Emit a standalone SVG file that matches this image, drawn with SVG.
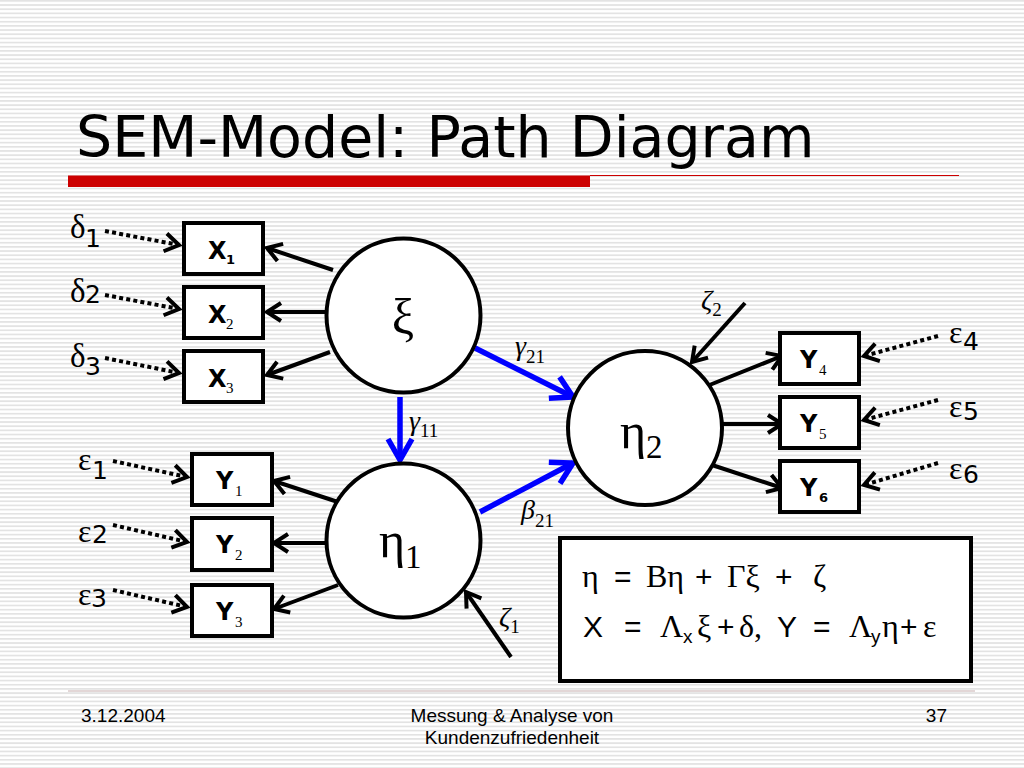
<svg xmlns="http://www.w3.org/2000/svg" width="1024" height="768" viewBox="0 0 1024 768">
<defs>
<pattern id="stripes" width="8" height="4.17" patternUnits="userSpaceOnUse">
<rect width="8" height="4.17" fill="#ffffff"/>
<rect width="8" height="1.7" fill="#e3e3e3"/>
</pattern>
<marker id="arrB" markerUnits="userSpaceOnUse" markerWidth="40" markerHeight="40" refX="0" refY="0" orient="auto" overflow="visible">
<path d="M -14 -9 L 0 0 L -14 9" fill="none" stroke="#000" stroke-width="4" stroke-dasharray="none" stroke-linejoin="miter"/>
</marker>
<marker id="arrBlue" markerUnits="userSpaceOnUse" markerWidth="40" markerHeight="40" refX="0" refY="0" orient="auto" overflow="visible">
<path d="M -21 -12 L 0 0 L -21 12" fill="none" stroke="#0000ff" stroke-width="5.5" stroke-dasharray="none" stroke-linejoin="miter"/>
</marker>
</defs>
<style>
.box{fill:#fff;stroke:#000;stroke-width:4}
.circ{fill:#fff;stroke:#000;stroke-width:4}
.lbl{font-family:"DejaVu Sans",Verdana,sans-serif;font-weight:bold;font-size:24px;fill:#000}
.subb{font-family:"DejaVu Sans",sans-serif;font-weight:bold;font-size:13px}
.subs{font-family:"Liberation Serif",serif;font-weight:normal;font-size:15px}
.ser{font-family:"Liberation Serif","Times New Roman",serif;fill:#000}
.san{font-family:"DejaVu Sans",Verdana,sans-serif;fill:#000}
.ar{font-family:"Liberation Sans",Arial,sans-serif;fill:#000}
.it{font-style:italic}
.solid{fill:none;stroke:#000;stroke-width:4;marker-end:url(#arrB)}
.dot{fill:none;stroke:#000;stroke-width:4;stroke-dasharray:4 3.2;marker-end:url(#arrB)}
.blue{fill:none;stroke:#0000ff;stroke-width:5.5;marker-end:url(#arrBlue)}
.foot{font-family:"Liberation Sans",Tahoma,sans-serif;font-size:19px;fill:#000}
</style>
<rect width="1024" height="768" fill="url(#stripes)"/>
<g id="title">
<text x="76" y="157" class="san" font-size="57">SEM-Model: Path Diagram</text>
<rect x="68" y="175.5" width="522" height="11.5" fill="#cc0000"/>
<line x1="590" y1="175.5" x2="959" y2="175.5" stroke="#cc0000" stroke-width="1.2"/>
</g>
<g id="connectors">
<path class="solid" d="M 333 270 L 267 248"/>
<path class="solid" d="M 325 312 L 267 312"/>
<path class="solid" d="M 330 352 L 267 375"/>
<path class="solid" d="M 338 502 L 274 481"/>
<path class="solid" d="M 325 543 L 274 543"/>
<path class="solid" d="M 338 585 L 274 609"/>
<path class="solid" d="M 707 386 L 782 356"/>
<path class="solid" d="M 722 424 L 782 424"/>
<path class="solid" d="M 712 465 L 782 488"/>
<path class="solid" d="M 745 303 L 692 362"/>
<path class="solid" d="M 511 657 L 466 592"/>
<path class="dot" d="M 105 231 L 179 245"/>
<path class="dot" d="M 105 295 L 179 309"/>
<path class="dot" d="M 105 358 L 179 373"/>
<path class="dot" d="M 113 461 L 187 477"/>
<path class="dot" d="M 113 525 L 187 542"/>
<path class="dot" d="M 113 590 L 187 607"/>
<path class="dot" d="M 938 336 L 864 356"/>
<path class="dot" d="M 938 400 L 864 420"/>
<path class="dot" d="M 938 463 L 864 485"/>
<path class="blue" d="M 400 397 L 400 460"/>
<path class="blue" d="M 475 348 L 573 397"/>
<path class="blue" d="M 480 512 L 573 463"/>
</g>
<g id="xi">
<circle class="circ" cx="403.5" cy="315.5" r="77"/>
<text x="403" y="334" class="ser" font-size="50" text-anchor="middle">ξ</text>
</g>
<g id="eta1">
<circle class="circ" cx="403.5" cy="540.5" r="77"/>
<text x="379" y="557" class="ser" font-size="50">η<tspan x="405" y="568" font-size="33">1</tspan></text>
</g>
<g id="eta2">
<circle class="circ" cx="645" cy="428" r="77"/>
<text x="620" y="448" class="ser" font-size="50">η<tspan x="646" y="458" font-size="33">2</tspan></text>
</g>
<g id="X1"><rect class="box" x="184" y="223" width="79" height="51"/><text x="208" y="259" class="lbl">X<tspan class="subb" x="226" y="264">1</tspan></text></g>
<g id="X2"><rect class="box" x="184" y="287" width="79" height="51"/><text x="208" y="323" class="lbl">X<tspan class="subs" x="226" y="329">2</tspan></text></g>
<g id="X3"><rect class="box" x="184" y="351" width="79" height="51"/><text x="208" y="387" class="lbl">X<tspan class="subs" x="226" y="393">3</tspan></text></g>
<g id="Y1"><rect class="box" x="192" y="454" width="80" height="51"/><text x="216" y="489" class="lbl">Y<tspan class="subs" x="235" y="496">1</tspan></text></g>
<g id="Y2"><rect class="box" x="192" y="518" width="80" height="52"/><text x="216" y="553" class="lbl">Y<tspan class="subs" x="235" y="560">2</tspan></text></g>
<g id="Y3"><rect class="box" x="192" y="585" width="80" height="51"/><text x="216" y="620" class="lbl">Y<tspan class="subs" x="235" y="627">3</tspan></text></g>
<g id="Y4"><rect class="box" x="780" y="333" width="79" height="51"/><text x="800" y="368" class="lbl">Y<tspan class="subs" x="819" y="375">4</tspan></text></g>
<g id="Y5"><rect class="box" x="780" y="397" width="79" height="51"/><text x="800" y="432" class="lbl">Y<tspan class="subs" x="819" y="439">5</tspan></text></g>
<g id="Y6"><rect class="box" x="780" y="461" width="79" height="51"/><text x="800" y="496" class="lbl">Y<tspan class="subb" x="819" y="502">6</tspan></text></g>
<g id="errors">
<text x="70" y="238" class="ser" font-size="33">δ</text><text x="85" y="247" class="san" font-size="25">1</text>
<text x="70" y="302" class="ser" font-size="33">δ</text><text x="85" y="303" class="san" font-size="25">2</text>
<text x="70" y="367" class="ser" font-size="33">δ</text><text x="85" y="375" class="san" font-size="25">3</text>
<text x="78" y="470" class="ser" font-size="32">ε</text><text x="92" y="479" class="san" font-size="25">1</text>
<text x="78" y="542" class="ser" font-size="32">ε</text><text x="92" y="543" class="san" font-size="25">2</text>
<text x="78" y="605" class="ser" font-size="32">ε</text><text x="91" y="607" class="san" font-size="25">3</text>
<text x="949" y="343" class="ser" font-size="32">ε</text><text x="963" y="350" class="san" font-size="25">4</text>
<text x="949" y="417" class="ser" font-size="32">ε</text><text x="963" y="420" class="san" font-size="25">5</text>
<text x="949" y="479" class="ser" font-size="32">ε</text><text x="963" y="483" class="san" font-size="25">6</text>
</g>
<g id="coefs">
<text x="515" y="355" class="ser it" font-size="28">γ<tspan font-style="normal" font-size="19" y="363">21</tspan></text>
<text x="409" y="430" class="ser it" font-size="28">γ<tspan font-style="normal" font-size="19" y="437">11</tspan></text>
<text x="521" y="519" class="ser it" font-size="28">β<tspan font-style="normal" font-size="19" y="527">21</tspan></text>
<text x="701" y="309" class="ser it" font-size="28">ζ<tspan font-style="normal" font-size="19" y="316">2</tspan></text>
<text x="499" y="626" class="ser it" font-size="28">ζ<tspan font-style="normal" font-size="19" y="633">1</tspan></text>
</g>
<g id="equations">
<rect x="560" y="538" width="411" height="143" fill="#fff" stroke="#000" stroke-width="4"/>
<text y="587" class="ser" font-size="32"><tspan x="582">η</tspan><tspan class="ar" x="614" font-size="30">=</tspan><tspan x="646">Bη</tspan><tspan class="ar" x="695" font-size="30">+</tspan><tspan x="727">Γξ</tspan><tspan class="ar" x="775" font-size="30">+</tspan><tspan x="813">ζ</tspan></text>
<text y="637" class="ser" font-size="32"><tspan class="ar" x="583" font-size="30">X</tspan><tspan class="ar" x="624" font-size="30">=</tspan><tspan x="660">Λ</tspan><tspan class="ar" x="683" y="643" font-size="19">x</tspan><tspan x="697" y="637">ξ</tspan><tspan class="ar" x="717" font-size="30">+</tspan><tspan x="739">δ,</tspan><tspan class="ar" x="777" font-size="30">Y</tspan><tspan class="ar" x="813" font-size="30">=</tspan><tspan x="849">Λ</tspan><tspan class="ar" x="871" y="643" font-size="19">y</tspan><tspan x="882" y="637">η</tspan><tspan class="ar" x="900" font-size="30">+</tspan><tspan x="923">ε</tspan></text>
</g>
<g id="footer">
<line x1="68" y1="691" x2="975" y2="691" stroke="#c8b0b0" stroke-width="1"/>
<text x="81" y="722" class="foot">3.12.2004</text>
<text x="512" y="722" class="foot" text-anchor="middle">Messung &amp; Analyse von</text>
<text x="512" y="744" class="foot" text-anchor="middle">Kundenzufriedenheit</text>
<text x="947" y="722" class="foot" text-anchor="end">37</text>
</g>
</svg>
